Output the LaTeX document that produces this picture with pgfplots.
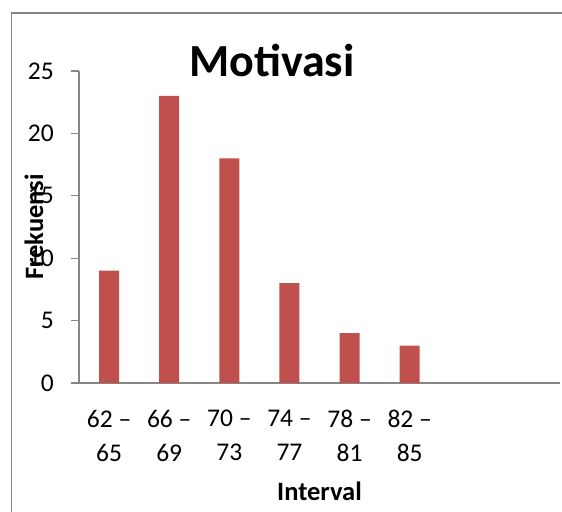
\documentclass[border=0pt]{standalone}
\usepackage{fontspec}
\setmainfont{Carlito}
\usepackage{pgfplots}
\pgfplotsset{compat=1.18}
\definecolor{barred}{HTML}{C0504D}
\definecolor{axgray}{HTML}{868686}
\begin{document}
\begin{tikzpicture}[x=1bp,y=1bp]
\useasboundingbox (0,0) rectangle (562,-512);
\draw[axgray, line width=1.2bp] (11.5,-512) -- (11.5,-13) -- (562,-13);
\begin{axis}[
  at={(79bp,-383bp)}, anchor=south west,
  scale only axis, width=481bp, height=312bp,
  xmin=-0.5, xmax=7.5, ymin=0, ymax=25,
  axis lines*=left,
  axis line style={axgray, line width=1.4bp},
  ytick={0,5,10,15,20,25},
  xtick={0,1,2,3,4,5},
  xticklabels={{62 –\\65},{66 –\\69},{70 –\\73},{74 –\\77},{78 –\\81},{82 –\\85}},
  tick align=outside, major tick length=8bp,
  xtick style={draw=none},
  ytick style={axgray, line width=1.2bp},
  /pgf/number format/assume math mode=true,
  tick label style={font=\fontsize{25.5bp}{34bp}\selectfont, text=black},
  yticklabel style={anchor=east, inner sep=0pt, xshift=-17bp},
  xticklabel style={align=center, anchor=north, inner sep=0pt, yshift=-19bp},
  ylabel={Frekuensi},
  ylabel style={at={(axis description cs:-0.0748,0.5)}, anchor=base, font=\fontsize{26.5bp}{30bp}\selectfont\bfseries},
  xlabel={Interval},
  xlabel style={at={(axis description cs:0.5,-0.375)}, anchor=base, font=\fontsize{26.5bp}{30bp}\selectfont\bfseries},
  title={Motivasi},
  title style={at={(axis description cs:0.401,0.9647)}, anchor=base, font=\fontsize{46bp}{50bp}\selectfont\bfseries},
  ybar, bar width=20bp,
]
\addplot[fill=barred, draw=none] coordinates {(0,9) (1,23) (2,18) (3,8) (4,4) (5,3)};
\end{axis}
\end{tikzpicture}
\end{document}
